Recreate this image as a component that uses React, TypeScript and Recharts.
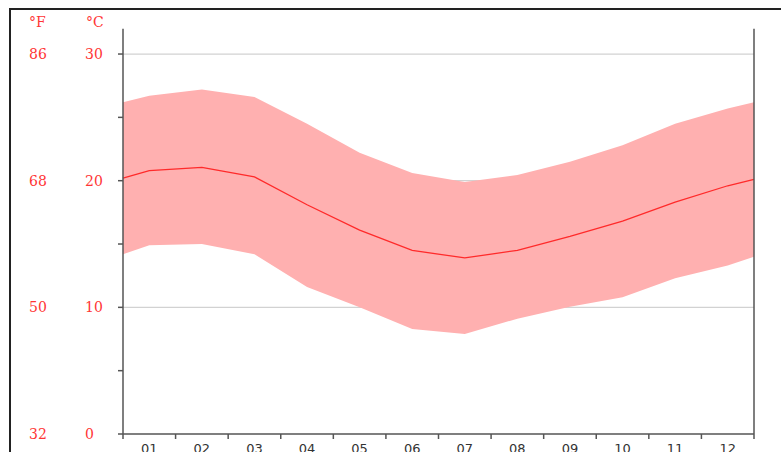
import { ComposedChart, Area, Line, XAxis, YAxis, CartesianGrid, ReferenceLine } from 'recharts';

// month positions, incl. the half-month edges where the curve meets the frame
const monthPos = [0.5, 1, 2, 3, 4, 5, 6, 7, 8, 9, 10, 11, 12, 12.5];
const tempLow = [14.2, 14.9, 15.0, 14.2, 11.6, 10.0, 8.3, 7.9, 9.1, 10.05, 10.8, 12.3, 13.3, 14.0];
const tempMean = [20.2, 20.8, 21.05, 20.3, 18.1, 16.1, 14.5, 13.9, 14.5, 15.6, 16.8, 18.3, 19.6, 20.1];
const tempHigh = [26.2, 26.7, 27.2, 26.6, 24.5, 22.2, 20.6, 19.9, 20.45, 21.5, 22.8, 24.5, 25.7, 26.2];

const monthLabels = ['01', '02', '03', '04', '05', '06', '07', '08', '09', '10', '11', '12'];
const xTicks = [0.5, 1, 1.5, 2, 2.5, 3, 3.5, 4, 4.5, 5, 5.5, 6, 6.5, 7, 7.5, 8, 8.5, 9, 9.5, 10, 10.5, 11, 11.5, 12, 12.5];
const yTicks = [0, 5, 10, 15, 20, 25, 30];
const labelledC = [0, 10, 20, 30];

const RED = '#ff3535';
const LABEL_FONT = 'DejaVu Serif';

const chartData = monthPos.map((m, i) => ({
    m,
    range: [tempLow[i], tempHigh[i]],
    mean: tempMean[i],
}));

const toF = (c: number) => Math.round(c * 9 / 5 + 32);

const MonthTick = (props: any) => {
    const { x, y, payload } = props;
    const v = payload.value as number;
    if (v % 1 !== 0) {
        return <line x1={x} x2={x} y1={y - 5} y2={y} stroke="#555" strokeWidth={1.5} />;
    }
    return (
        <text x={x} y={y + 14} textAnchor="middle" fill="#333" fontSize={13} fontFamily="DejaVu Sans">
            {monthLabels[v - 1]}
        </text>
    );
};

const TempTick = (props: any) => {
    const { y, payload } = props;
    const v = payload.value as number;
    if (!labelledC.includes(v)) return <g />;
    return (
        <g fill={RED} fontSize={14} fontFamily={LABEL_FONT}>
            <text x={29} y={y} dy="0.36em">{toF(v)}</text>
            <text x={85} y={y} dy="0.36em">{v}</text>
        </g>
    );
};

const headerStyle = { position: 'absolute' as const, top: 14, color: RED, fontSize: 14, fontFamily: LABEL_FONT };

export default function App() {
    return (
        <div style={{ position: 'absolute', left: 0, top: 0, width: 781, height: 452, overflow: 'hidden', background: '#fff' }}>
            <div style={{ position: 'absolute', left: 9, top: 8, width: 800, height: 480, border: '2px solid #222' }} />
            <div style={{ ...headerStyle, left: 29 }}>°F</div>
            <div style={{ ...headerStyle, left: 86 }}>°C</div>
            <div style={{ position: 'absolute', left: 0, top: 0 }}>
                <ComposedChart width={781} height={452} data={chartData} margin={{ top: 28.7, right: 27, bottom: 0, left: 0 }}>
                    <CartesianGrid horizontal vertical={false} horizontalValues={[10, 20, 30]} stroke="#d2d2d2" strokeWidth={1.2} />
                    <XAxis
                        dataKey="m"
                        type="number"
                        domain={[0.5, 12.5]}
                        ticks={xTicks}
                        interval={0}
                        height={18}
                        tickSize={5}
                        tickMargin={0}
                        tickLine={false}
                        axisLine={{ stroke: '#555', strokeWidth: 1.5 }}
                        tick={<MonthTick />}
                    />
                    <YAxis
                        type="number"
                        domain={[0, 32]}
                        ticks={yTicks}
                        interval={0}
                        width={123}
                        tickSize={5}
                        axisLine={{ stroke: '#555', strokeWidth: 1.5 }}
                        tickLine={{ stroke: '#555', strokeWidth: 1.5 }}
                        tick={<TempTick />}
                    />
                    <Area
                        type="linear"
                        dataKey="range"
                        stroke="none"
                        fill="#ffb0b0"
                        fillOpacity={1}
                        isAnimationActive={false}
                    />
                    <Line
                        type="linear"
                        dataKey="mean"
                        stroke="#ff2a2a"
                        strokeWidth={1.3}
                        dot={false}
                        isAnimationActive={false}
                    />
                    <ReferenceLine x={12.5} stroke="#555" strokeWidth={1.5} />
                </ComposedChart>
            </div>
        </div>
    );
}
